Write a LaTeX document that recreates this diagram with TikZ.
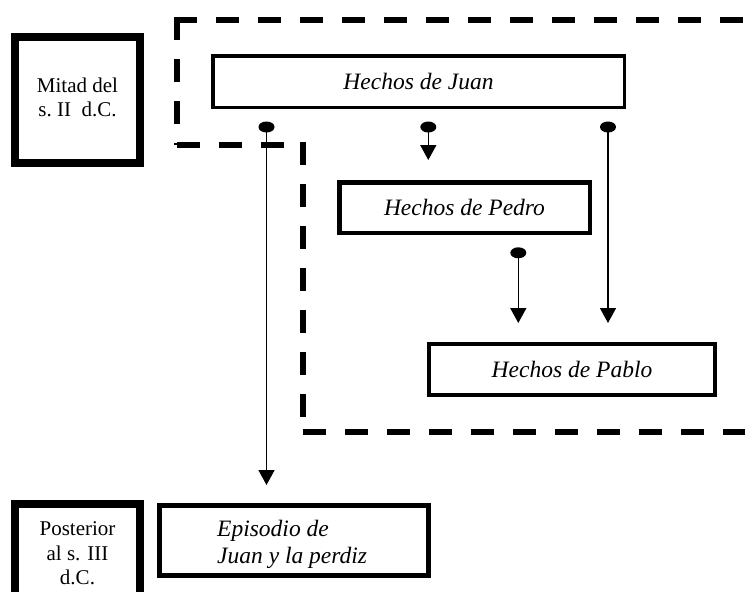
\documentclass[tikz,border=0pt]{standalone}
\usepackage{fontspec}
\setmainfont{Liberation Serif}
\usetikzlibrary{arrows.meta,shapes.geometric}
\begin{document}
\begin{tikzpicture}[x=1pt,y=-1pt,
  box/.style={draw, rectangle, inner sep=0pt, font=\fontsize{23.5}{27}\selectfont\itshape},
  datebox/.style={draw, rectangle, line width=8pt, inner sep=0pt, minimum width=125pt, minimum height=126pt},
  datetext/.style={inner sep=0pt, align=center, font=\fontsize{21}{24.5}\selectfont},
  boxtext/.style={inner sep=0pt, align=left, font=\fontsize{23.5}{26.7}\selectfont\itshape},
  dot/.style={ellipse, fill, draw=none, minimum width=16pt, minimum height=11pt, inner sep=0pt},
  conn/.style={line width=1.6pt, -{Triangle[width=16pt,length=15pt]}},
  dashline/.style={line width=6pt, dash pattern=on 23pt off 19pt}]
\useasboundingbox (0,0) rectangle (745,592);
\begin{scope}
\clip (0,0) rectangle (745,592);
% dashed region
\draw[dashline] (174,20) -- (745,20);
\draw[dashline] (177,17) -- (177,145);
\draw[dashline] (177,145) -- (303,145);
\draw[dashline] (303,142) -- (303,432);
\draw[dashline] (303,432) -- (745,432);
% date boxes
\node[datebox] (mitad) at (77.5,100) {};
\node[datetext] (mitadtxt) at (77.5,97.4) {Mitad del\\s.~II~~d.C.};
\node[datebox] (post) at (77.5,567) {};
\begin{scope}
\clip (0,0) rectangle (745,584);
\node[datetext] (posttxt) at (77.5,553.3) {Posterior\\al s. III\\d.C.};
\end{scope}
% text boxes
\node[box, line width=3.5pt, minimum width=411.5pt, minimum height=51.5pt] (juan) at (418.5,81.5) {Hechos de Juan};
\node[box, line width=4.5pt, minimum width=250.5pt, minimum height=50.5pt] (pedro) at (464.5,207.5) {Hechos de Pedro};
\node[box, line width=4pt, minimum width=286pt, minimum height=51pt] (pablo) at (572,369.5) {Hechos de Pablo};
\node[box, line width=5pt, minimum width=269pt, minimum height=70pt] (epi) at (294,540.5) {};
\node[boxtext, anchor=west] (epitxt) at (217,544.5) {Episodio de\\Juan y la perdiz};
% dots
\node[dot] (d1) at (266.5,127) {};
\node[dot] (d2) at (428.3,127) {};
\node[dot] (d3) at (608,127) {};
\node[dot] (d4) at (518.3,252.8) {};
% connectors
\draw[conn, shorten >=18pt] (d1.center) -- (d1.center |- epi.north);
\draw[conn, shorten >=20pt] (d2.center) -- (d2.center |- pedro.north);
\draw[conn, shorten >=19pt] (d3.center) -- (d3.center |- pablo.north);
\draw[conn, shorten >=19pt] (d4.center) -- (d4.center |- pablo.north);
\end{scope}
\end{tikzpicture}
\end{document}
